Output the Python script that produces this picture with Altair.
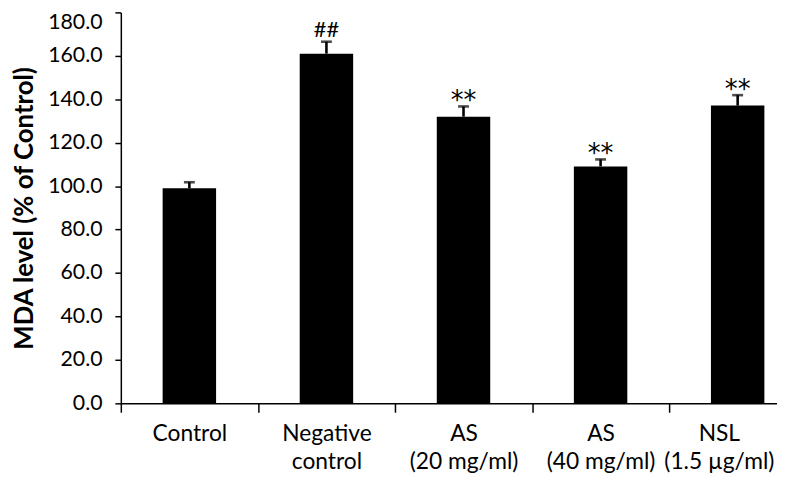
import altair as alt
import pandas as pd

categories = ["Control", "Negative control", "AS (20 mg/ml)", "AS (40 mg/ml)", "NSL (1.5 µg/ml)"]
means = [99.0, 161.0, 132.0, 109.1, 137.1]
errors = [2.8, 5.5, 4.7, 3.2, 4.8]
marks = ["", "##", "**", "**", "**"]

df = pd.DataFrame({"group": categories, "mean": means, "err": errors, "mark": marks})
df["top"] = df["mean"] + df["err"]

FONT = "Lato"

label_expr = ("indexof(datum.label, ' ') > 0 ? "
              "[substring(datum.label, 0, indexof(datum.label, ' ')), "
              "substring(datum.label, indexof(datum.label, ' ') + 1)] : datum.label")

xaxis = alt.Axis(
    title=None, labelAngle=0, tickBand="extent", labelExpr=label_expr,
    tickSize=9, labelPadding=11, labelLineHeight=28, labelFontSize=23,
    labelBaseline="top",
    labelOffset=alt.ConditionalAxisNumber(
        condition={"test": "datum.value == 'NSL (1.5 µg/ml)'", "value": -19}, value=0),
)
x = alt.X("group:N", sort=categories,
          scale=alt.Scale(range=[0, 692.5], paddingInner=0, paddingOuter=0),
          axis=xaxis)

yaxis = alt.Axis(
    title="MDA level (% of Control)", values=list(range(0, 181, 20)),
    format=".1f", tickSize=6, labelPadding=13, labelFontSize=21.5,
    titleFontSize=26, titleFontWeight="bold", titlePadding=10, grid=False,
    labelOffset=alt.ConditionalAxisNumber(
        condition={"test": "datum.value == 180", "value": 10}, value=0),
)
yscale = alt.Scale(domain=[0, 180], nice=False)

base = alt.Chart(df)

bars = base.mark_bar(color="black", width=54).encode(
    x=x, y=alt.Y("mean:Q", scale=yscale, axis=yaxis))
rules = base.mark_rule(color="black", strokeWidth=2.6).encode(
    x=x, y=alt.Y("mean:Q", scale=yscale, axis=yaxis), y2="top:Q")
caps = base.mark_tick(color="black", thickness=2.6, size=11).encode(
    x=x, y=alt.Y("top:Q", scale=yscale, axis=yaxis))
hashes = base.transform_filter("datum.mark == '##'").mark_text(
    font=FONT, fontSize=22, baseline="alphabetic", dy=-5, color="black").encode(
    x=x, y=alt.Y("top:Q", scale=yscale, axis=yaxis), text="mark:N")
stars = base.transform_filter("datum.mark == '**'").mark_text(
    font="DejaVu Sans", fontSize=26, baseline="alphabetic", dy=3, color="black").encode(
    x=x, y=alt.Y("top:Q", scale=yscale, axis=yaxis), text="mark:N")

chart = alt.layer(bars, rules, caps, hashes, stars).properties(
    width=663, height=395,
    autosize=alt.AutoSizeParams(type="none"),
    padding={"left": 114, "top": 2, "right": 0, "bottom": 73},
).configure_view(stroke=None).configure_axis(
    domainColor="black", tickColor="black", labelColor="black", titleColor="black",
    labelFont=FONT, titleFont=FONT, domainWidth=1.5, tickWidth=1.5,
)

chart.save("out.html", embed_options={"renderer": "svg", "actions": False})
